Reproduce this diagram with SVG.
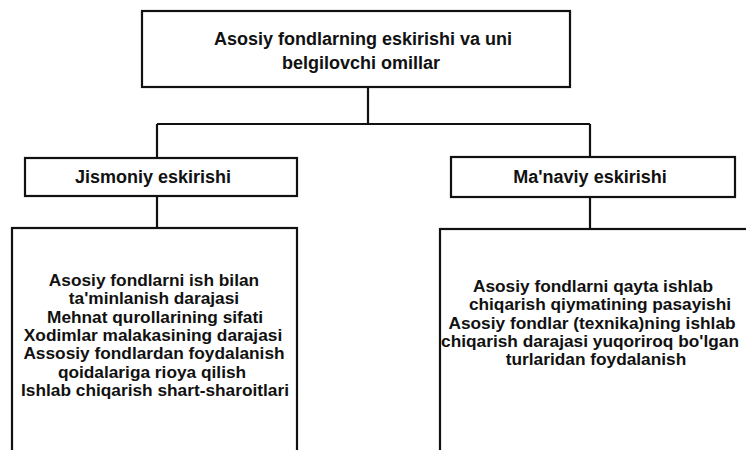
<svg xmlns="http://www.w3.org/2000/svg" width="746" height="450" viewBox="0 0 746 450">
<style>
.box{fill:#fff;stroke:#111;stroke-width:2.2}
.con{fill:none;stroke:#111;stroke-width:2.2}
text{font-family:"Liberation Sans",Arial,sans-serif;font-weight:bold;fill:#111;text-anchor:middle}
.t18{font-size:18px}
.t17{font-size:17.3px}
</style>
<rect width="746" height="450" fill="#fff"/>
<g id="connectors">
<path class="con" d="M368,87 V124 M157,124 H590 M157,124 V158 M590,124 V157 M157,196 V228 M590,197 V229"/>
</g>
<g id="node-root">
<rect class="box" x="142" y="11" width="428" height="76"/>
<text class="t18" x="363" y="45">Asosiy fondlarning eskirishi va uni</text>
<text class="t18" x="361" y="69">belgilovchi omillar</text>
</g>
<g id="node-jismoniy">
<rect class="box" x="25" y="158" width="272" height="38"/>
<text class="t18" x="153" y="183">Jismoniy eskirishi</text>
</g>
<g id="node-manaviy">
<rect class="box" x="451" y="157" width="284" height="40"/>
<text class="t18" x="590" y="183">Ma'naviy eskirishi</text>
</g>
<g id="node-jismoniy-factors">
<rect class="box" x="12" y="228" width="285" height="240"/>
<text class="t17" x="154" y="286">Asosiy fondlarni ish bilan</text>
<text class="t17" x="154" y="304.3">ta'minlanish darajasi</text>
<text class="t17" x="155" y="322.6">Mehnat qurollarining sifati</text>
<text class="t17" x="153" y="340.9">Xodimlar malakasining darajasi</text>
<text class="t17" x="154" y="359.2">Assosiy fondlardan foydalanish</text>
<text class="t17" x="152" y="377.5">qoidalariga rioya qilish</text>
<text class="t17" x="155" y="395.8">Ishlab chiqarish shart-sharoitlari</text>
</g>
<g id="node-manaviy-factors">
<rect class="box" x="440" y="229" width="320" height="240"/>
<text class="t17" x="593" y="292">Asosiy fondlarni qayta ishlab</text>
<text class="t17" x="600" y="310.3">chiqarish qiymatining pasayishi</text>
<text class="t17" x="592" y="328.6">Asosiy fondlar (texnika)ning ishlab</text>
<text class="t17" x="590" y="346.9">chiqarish darajasi yuqoriroq bo'lgan</text>
<text class="t17" x="596" y="365.2">turlaridan foydalanish</text>
</g>
</svg>
